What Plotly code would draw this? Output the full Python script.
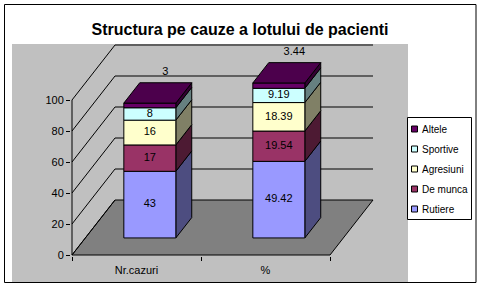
import plotly.graph_objects as go

# ---------------- data ----------------
categories = ["Nr.cazuri", "%"]
series_names = ["Rutiere", "De munca", "Agresiuni", "Sportive", "Altele"]
rutiere = [43, 49.42]
de_munca = [17, 19.54]
agresiuni = [16, 18.39]
sportive = [8, 9.19]
altele = [3, 3.44]
y_ticks = [0, 20, 40, 60, 80, 100]

series_values = [rutiere, de_munca, agresiuni, sportive, altele]

# ---------------- styles ----------------
front_colors = ["#9999FF", "#993366", "#FFFFCC", "#CCFFFF", "#660066"]
side_colors = ["#4D4D80", "#4D1A33", "#808066", "#668080", "#330033"]
top_color = "#4C004C"
FONT = "Arial, Liberation Sans, sans-serif"

W, H = 481, 289
PXU = 1.55                       # pixels per value unit on y
ML, MR, MT, MB = 71, 73, 44, 33  # plot area: x 71..408, y 44..256
plot_w = W - ML - MR
plot_h = H - MT - MB
y0 = -1 / PXU
y_range = [y0, y0 + plot_h / PXU]
x_range = [-1, plot_w - 1]

CAT_W = 129          # category width (x units = px)
HALF_BAR = 26
DX = 43              # full depth offset in x
DY = 55 / PXU        # full depth offset in y units
F1, F2 = 0.31, 0.68  # bar depth (front / back)
AXIS_LEN = CAT_W * len(categories)


def px2paper_x(px):
    return (px - ML) / plot_w


def px2paper_y(py):
    return (H - MB - py) / plot_h


fig = go.Figure()


def poly(xs, ys, fill, lw=1):
    fig.add_trace(go.Scatter(
        x=xs + [xs[0]], y=ys + [ys[0]], mode="lines", fill="toself",
        fillcolor=fill, line=dict(color="black", width=lw),
        hoverinfo="skip", showlegend=False))


def line(xs, ys):
    fig.add_trace(go.Scatter(
        x=xs, y=ys, mode="lines", line=dict(color="black", width=1),
        hoverinfo="skip", showlegend=False))


# floor
poly([0, AXIS_LEN, AXIS_LEN + DX, DX], [0, 0, DY, DY], "#808080")

# left wall diagonals and back wall grid lines
for v in y_ticks:
    line([0, DX], [v, v + DY])
    if v > 0:
        line([DX, AXIS_LEN + DX], [v + DY, v + DY])

# front value axis line
line([0, 0], [y_ticks[0], y_ticks[-1]])

# bars
lab_x, lab_y, lab_t = [], [], []
for ci, cat in enumerate(categories):
    cx = ci * CAT_W + CAT_W / 2
    xl = cx - HALF_BAR + F1 * DX
    xr = cx + HALF_BAR + F1 * DX
    dd = (F2 - F1)
    base = 0
    for si, vals in enumerate(series_values):
        v = vals[ci]
        b = base + F1 * DY
        t = base + v + F1 * DY
        # side face
        poly([xr, xr + dd * DX, xr + dd * DX, xr],
             [b, b + dd * DY, t + dd * DY, t], side_colors[si])
        # front face
        poly([xl, xr, xr, xl], [b, b, t, t], front_colors[si])
        label = f"{v:g}"
        if si < len(series_values) - 1:
            lab_x.append((xl + xr) / 2)
            lab_y.append((b + t) / 2)
        else:
            lab_x.append(cx + 0.67 * DX)
            lab_y.append(base + v + 31)
        lab_t.append(label)
        base += v
    # top face
    T = base + F1 * DY
    poly([xl, xr, xr + dd * DX, xl + dd * DX], [T, T, T + dd * DY, T + dd * DY], top_color)

fig.add_trace(go.Scatter(
    x=lab_x, y=lab_y, text=lab_t, mode="text", textposition="middle center",
    textfont=dict(family=FONT, size=11, color="black"),
    hoverinfo="skip", showlegend=False, cliponaxis=False))

shapes = []
# gray chart area background
shapes.append(dict(type="rect", xref="paper", yref="paper", layer="below",
                   x0=px2paper_x(12), x1=px2paper_x(408),
                   y0=px2paper_y(282), y1=px2paper_y(44),
                   fillcolor="#C0C0C0", line=dict(width=0)))
# outer border
shapes.append(dict(type="rect", xref="paper", yref="paper", layer="above",
                   x0=px2paper_x(4.5), x1=px2paper_x(476),
                   y0=px2paper_y(282.5), y1=px2paper_y(4.5),
                   fillcolor="rgba(0,0,0,0)", line=dict(color="black", width=1)))
# legend box
shapes.append(dict(type="rect", xref="paper", yref="paper", layer="above",
                   x0=px2paper_x(407.5), x1=px2paper_x(471.5),
                   y0=px2paper_y(219.5), y1=px2paper_y(117.5),
                   fillcolor="white", line=dict(color="black", width=1)))

annotations = []
for k, si in enumerate(reversed(range(len(series_names)))):
    cy = 129 + 20 * k
    shapes.append(dict(type="rect", xref="paper", yref="paper", layer="above",
                       x0=px2paper_x(411.5), x1=px2paper_x(417.5),
                       y0=px2paper_y(cy + 3), y1=px2paper_y(cy - 3),
                       fillcolor=front_colors[si], line=dict(color="black", width=1)))
    annotations.append(dict(xref="paper", yref="paper", x=px2paper_x(420), y=px2paper_y(cy),
                            xanchor="left", yanchor="middle", showarrow=False,
                            text=series_names[si],
                            font=dict(family=FONT, size=10, color="black")))

fig.update_layout(
    width=W, height=H,
    margin=dict(l=ML, r=MR, t=MT, b=MB),
    paper_bgcolor="white", plot_bgcolor="rgba(0,0,0,0)",
    showlegend=False,
    title=dict(text="Structura pe cauze a lotului de pacienti",
               xref="container", yref="container", x=240 / W, y=1 - 29 / H,
               xanchor="center", yanchor="middle",
               font=dict(family=FONT, size=16, color="black", weight="bold")),
    xaxis=dict(range=x_range, showgrid=False, zeroline=False, showline=False,
               tickmode="array",
               tickvals=[i * CAT_W + CAT_W / 2 for i in range(len(categories))],
               ticktext=categories, ticks="", ticklabelstandoff=6,
               tickfont=dict(family=FONT, size=11, color="black"),
               minor=dict(tickmode="array",
                          tickvals=[i * CAT_W for i in range(len(categories) + 1)],
                          ticks="outside", ticklen=4, tickcolor="black", tickwidth=1,
                          showgrid=False),
               fixedrange=True),
    yaxis=dict(range=y_range, showgrid=False, zeroline=False, showline=False,
               tickmode="array", tickvals=y_ticks, ticks="outside", ticklen=4,
               tickcolor="black", tickfont=dict(family=FONT, size=11, color="black"),
               fixedrange=True),
    shapes=shapes, annotations=annotations,
)

fig.write_html("out.html")
